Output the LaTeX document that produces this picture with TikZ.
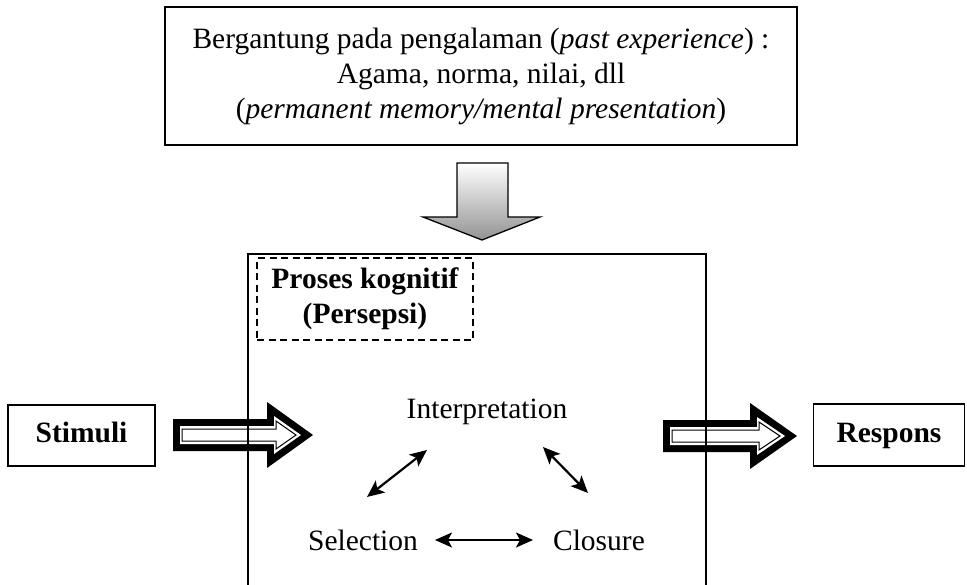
\documentclass[tikz,border=0pt]{standalone}
\usepackage{fontspec}
\setmainfont{Liberation Serif}
\usetikzlibrary{arrows.meta}
\newcommand\fsz{\fontsize{29.5}{35}\selectfont}
\newcommand\fatarr[4]{%
  \fill[black] (#1,#4-16) -- (#2,#4-16) -- (#2,#4-33) -- (#3,#4) -- (#2,#4+33) -- (#2,#4+16) -- (#1,#4+16) -- cycle;
  \fill[white] (#1+7,#4-9) -- (#2+7,#4-9) -- (#2+7,#4-19) -- (#3-12,#4) -- (#2+7,#4+19) -- (#2+7,#4+9) -- (#1+7,#4+9) -- cycle;
  \draw[black,line width=1pt,line join=miter] (#1+9,#4-6) -- (#2+9,#4-6) -- (#2+9,#4-14) -- (#3-17,#4) -- (#2+9,#4+14) -- (#2+9,#4+6) -- (#1+9,#4+6) -- cycle;
}
\tikzset{
  box/.style={draw, line width=1.7pt, inner sep=0pt},
  lbl/.style={font=\fsz, inner sep=0pt},
  blbl/.style={font=\fsz\bfseries, inner sep=0pt, text height=20pt, text depth=6pt},
  tip/.style={Stealth[length=17pt,width=15pt,inset=4pt]},
  dbl/.style={line width=2.2pt, {Stealth[length=17pt,width=15pt,inset=4pt]}-{Stealth[length=17pt,width=15pt,inset=4pt]}},
}
\begin{document}
\begin{tikzpicture}[x=1pt,y=-1pt]
\useasboundingbox[fill=white] (0,0) rectangle (967,584);
% top box
\node[box, minimum width=632pt, minimum height=138pt, align=center, font=\fsz] (exp) at (481,76)
  {Bergantung pada pengalaman (\textit{past experience}) :\\Agama, norma, nilai, dll\\(\textit{permanent memory/mental presentation})};
% down arrow
\draw[top color=white, bottom color=gray!85, draw=black, line width=1.3pt, line join=miter]
  (457,163) -- (508,163) -- (508,217) -- (540,217) -- (482,240) -- (423,217) -- (457,217) -- cycle;
% fat arrows
\fatarr{173}{267}{313}{435}
\fatarr{663}{750}{797}{436}
% main box
\node[box, line width=1.5pt, minimum width=458pt, minimum height=340pt, anchor=north west] (proc) at (247,253) {};
% dashed title box
\node[box, line width=1.8pt, dash pattern=on 7pt off 4.5pt, minimum width=216pt, minimum height=82pt, align=center, font=\fsz\bfseries] (pers) at (365,299)
  {Proses kognitif\\(Persepsi)};
% stimuli / respons
\node[box, minimum width=147pt, minimum height=61pt, blbl] (stim) at (81.5,435.5) {Stimuli};
\node[box, minimum width=151pt, minimum height=62pt, blbl] (resp) at (889,435) {Respons};
% inner labels
\node[lbl] (interp) at (487,412) {Interpretation};
\node[lbl] (sel) at (363,540) {Selection};
\node[lbl] (clo) at (599,540) {Closure};
\coordinate (a1) at (367,497);
\coordinate (a2) at (427,450);
\coordinate (b1) at (543,447);
\coordinate (b2) at (588,493);
\coordinate (c1) at (435,540);
\coordinate (c2) at (533,540);
\draw[dbl] (a1) -- (a2);
\draw[dbl] (b1) -- (b2);
\draw[dbl] (c1) -- (c2);
\end{tikzpicture}
\end{document}
